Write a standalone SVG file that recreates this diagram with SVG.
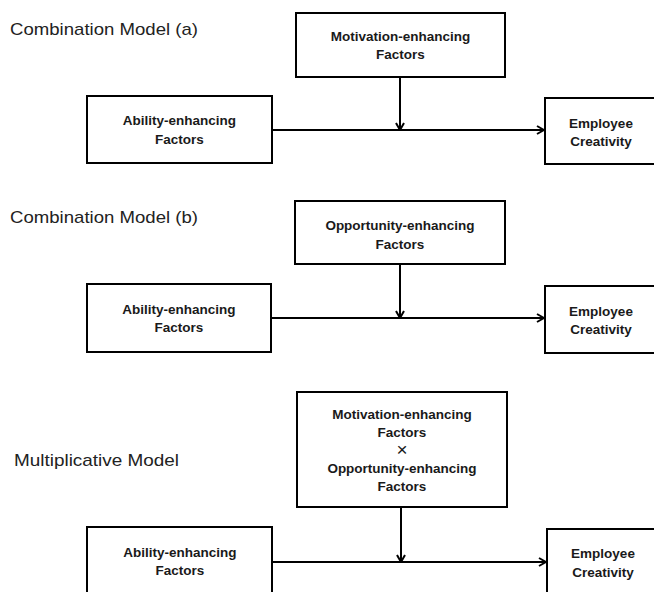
<svg xmlns="http://www.w3.org/2000/svg" width="654" height="592" viewBox="0 0 654 592">
<defs>
<style>
.box{fill:#fff;stroke:#000;stroke-width:2}
.lbl{font-family:"Liberation Sans",Arial,sans-serif;font-weight:bold;font-size:13.5px;fill:#1a1a1a;text-anchor:middle}
.ttl{font-family:"Liberation Sans",Arial,sans-serif;font-size:17px;fill:#222}
.con{fill:none;stroke:#000;stroke-width:2}
.x{font-family:"Liberation Sans",Arial,sans-serif;font-size:19px;fill:#1a1a1a;text-anchor:middle}
</style>
<marker id="arr" viewBox="0 0 10 10" refX="9" refY="5" markerWidth="10" markerHeight="10" markerUnits="userSpaceOnUse" orient="auto">
<path d="M2,1 L9,5 L2,9" fill="none" stroke="#000" stroke-width="2"/>
</marker>
</defs>
<rect width="654" height="592" fill="#fff"/>

<text class="ttl" x="10" y="35" textLength="188" lengthAdjust="spacingAndGlyphs">Combination Model (a)</text>
<text class="ttl" x="10" y="223" textLength="188" lengthAdjust="spacingAndGlyphs">Combination Model (b)</text>
<text class="ttl" x="14" y="466" textLength="165" lengthAdjust="spacingAndGlyphs">Multiplicative Model</text>

<g id="connectors">
<line class="con" x1="400" y1="77" x2="400" y2="130" marker-end="url(#arr)"/>
<line class="con" x1="272" y1="130" x2="544" y2="130" marker-end="url(#arr)"/>
<line class="con" x1="400" y1="264" x2="400" y2="318" marker-end="url(#arr)"/>
<line class="con" x1="271" y1="318" x2="544" y2="318" marker-end="url(#arr)"/>
<line class="con" x1="401" y1="507" x2="401" y2="562" marker-end="url(#arr)"/>
<line class="con" x1="272" y1="562" x2="546" y2="562" marker-end="url(#arr)"/>
</g>

<g id="a-motivation">
<rect class="box" x="296" y="13" width="209" height="64"/>
<text class="lbl" x="400.5" y="41">Motivation-enhancing</text>
<text class="lbl" x="400.5" y="59">Factors</text>
</g>
<g id="a-ability">
<rect class="box" x="87" y="96" width="185" height="67"/>
<text class="lbl" x="179.5" y="125">Ability-enhancing</text>
<text class="lbl" x="179.5" y="143.5">Factors</text>
</g>
<g id="a-creativity">
<rect class="box" x="545" y="98" width="115" height="66"/>
<text class="lbl" x="601" y="127.5">Employee</text>
<text class="lbl" x="601" y="145.5">Creativity</text>
</g>

<g id="b-opportunity">
<rect class="box" x="295" y="201" width="210" height="63"/>
<text class="lbl" x="400" y="230">Opportunity-enhancing</text>
<text class="lbl" x="400" y="248.5">Factors</text>
</g>
<g id="b-ability">
<rect class="box" x="87" y="284" width="184" height="68"/>
<text class="lbl" x="179" y="313.5">Ability-enhancing</text>
<text class="lbl" x="179" y="332">Factors</text>
</g>
<g id="b-creativity">
<rect class="box" x="545" y="286" width="115" height="67"/>
<text class="lbl" x="601" y="315.5">Employee</text>
<text class="lbl" x="601" y="334">Creativity</text>
</g>

<g id="m-product">
<rect class="box" x="297" y="392" width="210" height="115"/>
<text class="lbl" x="402" y="419">Motivation-enhancing</text>
<text class="lbl" x="402" y="437">Factors</text>
<text class="x" x="402" y="456">×</text>
<text class="lbl" x="402" y="473">Opportunity-enhancing</text>
<text class="lbl" x="402" y="491">Factors</text>
</g>
<g id="m-ability">
<rect class="box" x="87" y="527" width="185" height="80"/>
<text class="lbl" x="180" y="556.5">Ability-enhancing</text>
<text class="lbl" x="180" y="575">Factors</text>
</g>
<g id="m-creativity">
<rect class="box" x="547" y="529" width="115" height="80"/>
<text class="lbl" x="603" y="558">Employee</text>
<text class="lbl" x="603" y="576.5">Creativity</text>
</g>
</svg>
